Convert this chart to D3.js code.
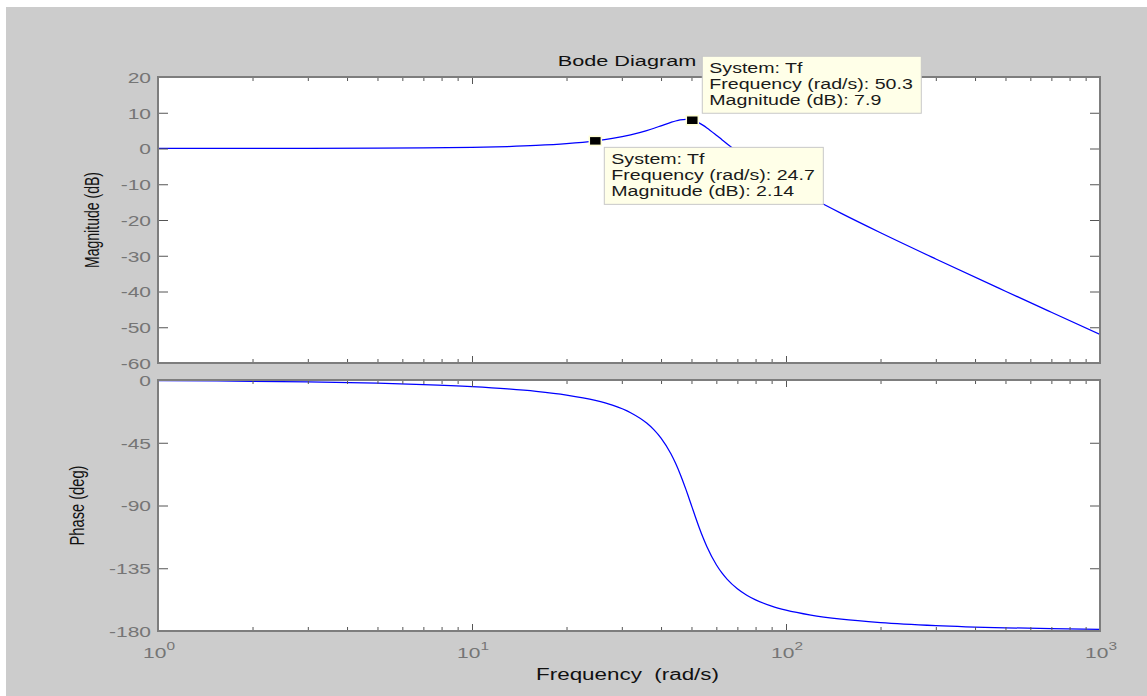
<!DOCTYPE html>
<html><head><meta charset="utf-8">
<script src="https://cdn.jsdelivr.net/npm/d3@7"></script>
<style>
html,body{margin:0;padding:0;background:#fff;}
svg{display:block;}
text{font-family:"Liberation Sans",Arial,Helvetica,sans-serif;}
</style></head><body>
<svg id="c" width="1147" height="696"></svg>
<script>
// ---- data ----
const freq = [1,2,3,5,7,10,13,16,20,24.7,28,32,36,38,40,43,44.5,46,48,49,50.3,51.5,53,54.5,56,60,62.5,65,70,75,80,90,100,120,150,200,300,500,700,1000];
const magDb = [0.003,0.013,0.029,0.080,0.158,0.325,0.554,0.851,1.360,2.14,2.829,3.829,5.019,5.673,6.345,7.302,7.696,7.986,8.136,8.090,7.90,7.608,7.099,6.469,5.761,3.726,2.468,1.270,-0.917,-2.838,-4.538,-7.432,-9.841,-13.725,-18.158,-23.571,-30.902,-39.920,-45.804,-52.02];
const phaseDeg = [-0.46,-0.92,-1.38,-2.31,-3.27,-4.76,-6.37,-8.12,-10.79,-14.65,-18.07,-23.44,-30.88,-35.74,-41.63,-52.87,-59.71,-67.34,-78.46,-84.23,-91.71,-98.41,-106.25,-113.34,-119.59,-132.51,-138.37,-143.00,-149.74,-154.36,-157.69,-162.18,-165.07,-168.60,-171.47,-173.91,-176.08,-177.69,-178.36,-178.85];
const magTicks = [20,10,0,-10,-20,-30,-40,-50,-60];
const phaseTicks = [0,-45,-90,-135,-180];
const decadeTicks = [1,10,100,1000];
const decadeExp = ["0","1","2","3"];
const tipFreq = [50.3,24.7];
const tipMag = [7.9,2.14];
const tipSystem = ["Tf","Tf"];
const titleText = "Bode Diagram";
const xLabel = "Frequency  (rad/s)";
const magLabel = "Magnitude (dB)";
const phaseLabel = "Phase (deg)";

// ---- layout ----
const W=1147,H=696,SX=1.4;
const L=158,R=1100,T1=77,B1=363,T2=380,B2=631;
const svg=d3.select("#c");
svg.append("rect").attr("x",6).attr("y",7).attr("width",W-6).attr("height",H-7).attr("fill","#cccccc");

const x=d3.scaleLog().domain([1,1000]).range([L,R]);
const yM=d3.scaleLinear().domain([-60,20]).range([B1,T1]);
const yP=d3.scaleLinear().domain([-180,0]).range([B2,T2]);
const minor=x.ticks().filter(v=>!decadeTicks.includes(v));

function styleAxis(g){
  g.attr("font-family",null).attr("font-size",null);
  g.select(".domain").remove();
  g.selectAll(".tick line").attr("stroke","#555").attr("stroke-width",1);
}

function panel(y, top, bottom, yTicks, values, id, labelText, labelX, labelLen){
  svg.append("rect").attr("x",L).attr("y",top).attr("width",R-L).attr("height",bottom-top).attr("fill","#fff");
  svg.append("clipPath").attr("id",id).append("rect").attr("x",L).attr("y",top).attr("width",R-L).attr("height",bottom-top);
  const line=d3.line().x((d,i)=>x(freq[i])).y(d=>y(d)).curve(d3.curveMonotoneX);
  svg.append("path").datum(values).attr("clip-path",`url(#${id})`).attr("d",line)
    .attr("fill","none").attr("stroke","#0000ff").attr("stroke-width",1.25);

  // x ticks bottom & top
  svg.append("g").attr("transform",`translate(0,${bottom})`).call(d3.axisBottom(x).tickValues(minor).tickSize(-4).tickSizeOuter(0).tickFormat("")).call(styleAxis);
  svg.append("g").attr("transform",`translate(0,${bottom})`).call(d3.axisBottom(x).tickValues(decadeTicks).tickSize(-7).tickSizeOuter(0).tickFormat("")).call(styleAxis);
  svg.append("g").attr("transform",`translate(0,${top})`).call(d3.axisTop(x).tickValues(minor).tickSize(-4).tickSizeOuter(0).tickFormat("")).call(styleAxis);
  svg.append("g").attr("transform",`translate(0,${top})`).call(d3.axisTop(x).tickValues(decadeTicks).tickSize(-7).tickSizeOuter(0).tickFormat("")).call(styleAxis);
  // y ticks left & right
  const gl=svg.append("g").attr("transform",`translate(${L},0)`)
    .call(d3.axisLeft(y).tickValues(yTicks).tickSize(-10).tickSizeOuter(0).tickFormat(d=>String(d))).call(styleAxis);
  gl.selectAll(".tick text").attr("x",0).attr("dy","0.35em").attr("text-anchor","end")
    .attr("transform",`translate(-7,0) scale(${SX},1)`).attr("fill","#757575").style("font-size","15px");
  svg.append("g").attr("transform",`translate(${R},0)`)
    .call(d3.axisRight(y).tickValues(yTicks).tickSize(-10).tickSizeOuter(0).tickFormat("")).call(styleAxis);
  // frame
  svg.append("rect").attr("x",L).attr("y",top).attr("width",R-L).attr("height",bottom-top)
    .attr("fill","none").attr("stroke","#7d7d7d").attr("stroke-width",2);
  // y label
  svg.append("g").attr("transform",`translate(${labelX},${(top+bottom)/2}) scale(${SX},1)`)
    .append("text").attr("transform","rotate(-90)").attr("text-anchor","middle")
    .attr("textLength",labelLen).attr("lengthAdjust","spacingAndGlyphs")
    .style("font-size","14px").attr("fill","#111").text(labelText);
}

panel(yM,T1,B1,magTicks,magDb,"clipM",magLabel,99,96);
panel(yP,T2,B2,phaseTicks,phaseDeg,"clipP",phaseLabel,84,80);

// x decade labels
decadeTicks.forEach((v,i)=>{
  const t=svg.append("g").attr("transform",`translate(${x(v)+1},658) scale(${SX},1)`)
    .append("text").attr("text-anchor","middle").attr("fill","#757575").style("font-size","15px");
  t.append("tspan").text("10");
  t.append("tspan").attr("dy",-8).style("font-size","11px").text(decadeExp[i]);
});

// title and x label
svg.append("g").attr("transform",`translate(627,66) scale(${SX},1)`)
  .append("text").attr("text-anchor","middle").style("font-size","15.5px").attr("fill","#111").text(titleText);
svg.append("g").attr("transform",`translate(627.5,680) scale(${SX},1)`)
  .append("text").attr("text-anchor","middle").style("font-size","16px").style("white-space","pre").attr("fill","#111").text(xLabel);

// data tips
const tipOffsets=[{dx:10,dy:-64},{dx:9,dy:6.5}];
tipFreq.forEach((f,i)=>{
  const mx=x(f), my=yM(tipMag[i]);
  svg.append("rect").attr("x",mx-6).attr("y",my-4.5).attr("width",12).attr("height",9)
    .attr("fill","#000").attr("stroke","#ffffd6").attr("stroke-width",1.5);
  const bx=mx+tipOffsets[i].dx, by=my+tipOffsets[i].dy;
  svg.append("rect").attr("x",bx).attr("y",by).attr("width",219).attr("height",57)
    .attr("fill","#ffffe8").attr("stroke","#c8c8c8").attr("stroke-width",1);
  const lines=[`System: ${tipSystem[i]}`,`Frequency (rad/s): ${f}`,`Magnitude (dB): ${tipMag[i]}`];
  lines.forEach((s,k)=>{
    svg.append("g").attr("transform",`translate(${bx+7},${by+17+k*15.7}) scale(${SX},1)`)
      .append("text").style("font-size","14px").attr("fill","#1a1a1a").text(s);
  });
});
</script>
</body></html>
